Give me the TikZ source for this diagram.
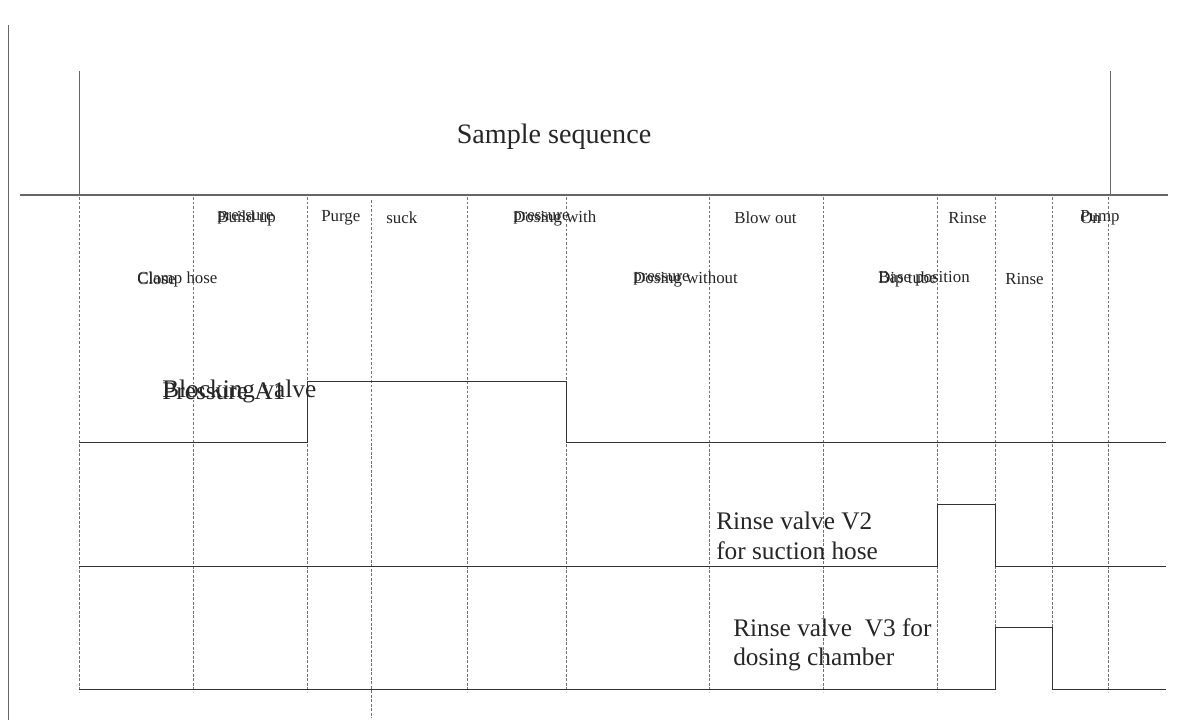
\documentclass[tikz,border=0pt]{standalone}
\usepackage{fontspec}
\setmainfont{Liberation Serif}

\begin{document}
\begin{tikzpicture}[x=0.025cm,y=-0.025cm,
        gridline/.style={draw=black!55,line width=0.5pt,dash pattern=on 2pt off 1.2pt},
        signal/.style={draw=black!80,line width=0.7pt},
        frameline/.style={draw=black!60,line width=0.6pt},
        steplbl/.style={anchor=west,inner sep=0pt,text=black!85,
              font=\fontsize{12}{14}\selectfont},
        valvelbl/.style={anchor=west,inner sep=0pt,text=black!85,align=left,
              font=\fontsize{18}{21}\selectfont}]
        \useasboundingbox (0,0) rectangle (1180,726);

        % frame and header
        \draw[frameline] (8,25) -- (8,720);
        \draw[frameline] (79,71) -- (79,195);
        \draw[frameline] (1110,71) -- (1110,195);
        \draw[frameline,line width=0.8pt] (20,195) -- (1168,195);
        \node[text=black!85,font=\fontsize{20}{24}\selectfont] (title) at (554,137)
              {Sample sequence};

        % step boundaries
        \foreach \xs in {79,193,307,467,566,709,823,937,995,1052,1108}
              \draw[gridline] (\xs,197) -- (\xs,692);
        \draw[gridline] (371,200) -- (371,718);

        % step labels, upper row
        \node[steplbl] (buildup) at (217,218) {Build up};
        \node[steplbl] (buildpress) at (217,218) {pressure};
        \node[steplbl] (purge) at (321,218) {Purge};
        \node[steplbl] (suck) at (386,218) {suck};
        \node[steplbl] (dosewith) at (513,218) {Dosing with};
        \node[steplbl] (dosepress) at (513,218) {pressure};
        \node[steplbl] (blowout) at (734,218) {Blow out};
        \node[steplbl] (rinseup) at (948,218) {Rinse};
        \node[steplbl] (pump) at (1080,218) {Pump};
        \node[steplbl] (pumpon) at (1080,218) {On};

        % step labels, lower row
        \node[steplbl] (clamp) at (137,279) {Clamp hose};
        \node[steplbl] (close) at (137,279) {Close};
        \node[steplbl] (dosewo) at (633,279) {Dosing without};
        \node[steplbl] (dosewopress) at (633,279) {pressure};
        \node[steplbl] (diptube) at (878,279) {Dip tube};
        \node[steplbl] (basepos) at (878,279) {Base position};
        \node[steplbl] (rinselow) at (1005,279) {Rinse};

        % valve signals
        \draw[signal] (79,442) -- (307,442) -- (307,381) -- (566,381)
              -- (566,442) -- (1166,442);
        \draw[signal] (79,566) -- (937,566) -- (937,504) -- (995,504)
              -- (995,566) -- (1166,566);
        \draw[signal] (79,689) -- (995,689) -- (995,627) -- (1052,627)
              -- (1052,689) -- (1166,689);

        % valve labels
        \node[valvelbl] (vone) at (162,391) {Pressure A1};
        \node[valvelbl] (vonename) at (162,391) {Blocking valve};
        \node[valvelbl] (vtwo) at (716,536) {Rinse valve V2\\for suction hose};
        \node[valvelbl] (vthree) at (733,645) {Rinse valve\ \ V3 for\\dosing chamber};
    \end{tikzpicture}
\end{document}
